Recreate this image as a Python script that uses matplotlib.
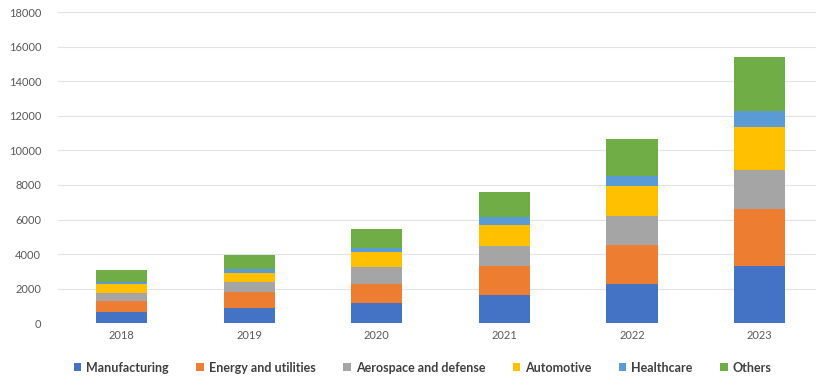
import numpy as np
import matplotlib
matplotlib.use('Agg')
import matplotlib.pyplot as plt

plt.rcParams['font.family'] = ['Lato', 'DejaVu Sans']

# dados
anos = ['2018', '2019', '2020', '2021', '2022', '2023']
manufacturing = [650, 900, 1200, 1620, 2300, 3300]
energy = [650, 920, 1080, 1680, 2220, 3300]
aerospace = [460, 550, 960, 1150, 1700, 2270]
automotive = [520, 520, 870, 1210, 1720, 2470]
healthcare = [110, 250, 260, 490, 580, 960]
others = [700, 800, 1060, 1450, 2120, 3080]

series = ['Manufacturing', 'Energy and utilities', 'Aerospace and defense',
          'Automotive', 'Healthcare', 'Others']
cores = ['#4472C4', '#ED7D31', '#A5A5A5', '#FFC000', '#5B9BD5', '#70AD47']
valores = [manufacturing, energy, aerospace, automotive, healthcare, others]

fig = plt.figure(figsize=(8.16, 3.79), dpi=100)
ax = fig.add_axes([0.071, 0.147, 0.938, 0.821])

x = np.arange(len(anos))
base = np.zeros(len(anos))
for nome, cor, v in zip(series, cores, valores):
    ax.bar(x, v, width=0.4, bottom=base, color=cor, label=nome, zorder=3)
    base += np.array(v)

ax.set_xlim(-0.5, len(anos) - 0.5)
ax.set_ylim(0, 18000)
ax.set_yticks(range(0, 18001, 2000))
ax.set_xticks(x)
ax.set_xticklabels(anos)
ax.yaxis.grid(True, color='#E3E3E3', linewidth=0.8, zorder=0)
for s in ax.spines.values():
    s.set_visible(False)
ax.tick_params(axis='both', length=0, labelsize=8, colors='#595959')
ax.tick_params(axis='y', pad=12)
ax.tick_params(axis='x', pad=5)

fig.legend(loc='center', bbox_to_anchor=(0.518, 0.03), ncol=6, frameon=False,
           handlelength=0.6, handleheight=0.6, handletextpad=0.4, columnspacing=2.2,
           prop={'size': 9, 'weight': 'bold'}, labelcolor='#404040')

fig.savefig('out.png', dpi=100)
